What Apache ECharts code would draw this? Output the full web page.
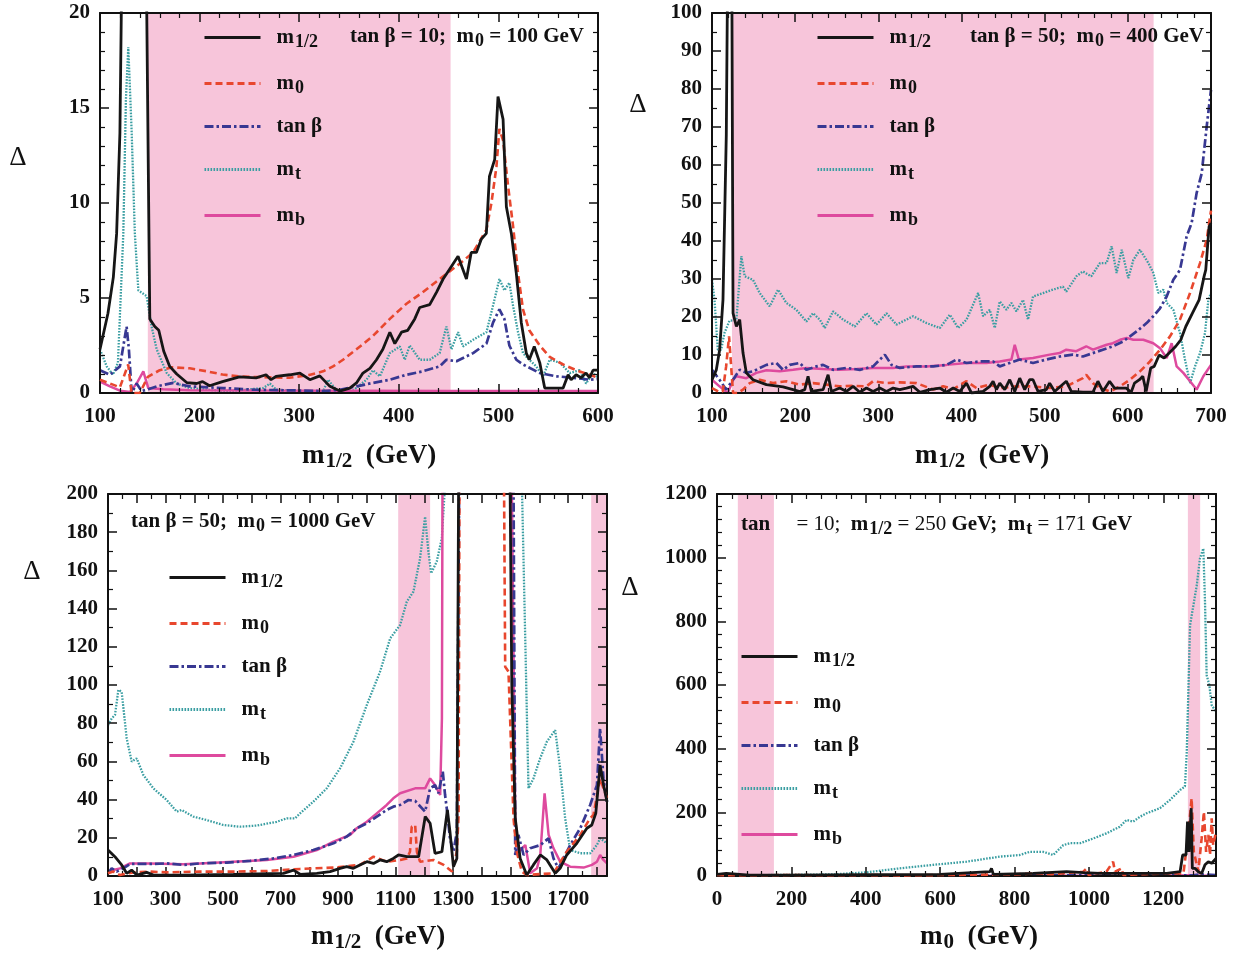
<!DOCTYPE html>
<html><head><meta charset="utf-8">
<script src="https://cdn.jsdelivr.net/npm/echarts@6/dist/echarts.min.js"></script>
<style>html,body{margin:0;padding:0;background:#fff}#c{width:1236px;height:957px}</style>
</head><body><div id="c"></div>
<script>
// ---------------- DATA ----------------
const SERIES_NAMES = ['m1/2', 'm0', 'tan β', 'mt', 'mb'];

// Panel 1: tan beta = 10, m0 = 100 GeV (x = m1/2)
const P1_BANDS = [[148, 452]];
const P1_M12 = [[100,2.3],[108,4.2],[113.4,6.1],[116.7,8.4],[120,13.7],[122.5,25],[146,25],[150,3.9],[155,3.5],[159,3.3],[164,2.2],[170,1.4],[177,1.0],[187,0.55],[197,0.5],[203,0.6],[210,0.38],[223,0.6],[240,0.85],[256.7,0.8],[266.7,0.96],[271.7,0.7],[276.7,0.87],[290.6,0.96],[300.7,1.05],[310.7,0.7],[320.7,0.9],[330.8,0.35],[340.8,0.1],[350.8,0.26],[357.5,0.53],[364,1.05],[371,1.3],[377.6,1.75],[384,2.3],[391,3.2],[396,2.6],[402.7,3.2],[409,3.3],[416,3.9],[421,4.5],[431,4.65],[437.8,5.3],[444.5,6.0],[449.5,6.4],[459.5,7.2],[467.9,6.0],[472.7,7.4],[477.9,7.4],[482.9,8.1],[487.9,8.4],[491,11.4],[496.3,12.3],[499.6,15.6],[504.7,14.4],[508,9.8],[513,8.4],[518,6.3],[523,3.7],[528,2.1],[531,1.75],[536,2.45],[541.5,1.6],[546.5,0.26],[565,0.26],[570,0.96],[573,0.7],[578,0.96],[583,0.8],[588,1.05],[591.6,0.8],[595,1.2],[600,1.2]];
const P1_M0 = [[100,0.7],[110,0.5],[120,0.3],[128.3,1.5],[131.7,0],[140,0],[148,0.85],[160,1.2],[173,1.35],[190,1.3],[206.7,1.15],[223,0.97],[240,0.87],[256.7,0.84],[290,0.8],[310,0.95],[324,1.14],[334,1.4],[344,1.75],[357.5,2.3],[374,3.0],[391,3.9],[407.7,4.7],[424,5.3],[441,6.0],[451,6.4],[461,6.8],[474.6,7.4],[488,8.6],[493,10.0],[498,11.9],[501,13.9],[504.7,13.3],[509.7,10.9],[514.7,8.8],[519.7,6.3],[524.7,4.4],[531,3.3],[541.5,2.5],[551.5,1.9],[565,1.5],[578,1.2],[591.6,0.96],[600,0.8]];
const P1_TANB = [[100,1.2],[110,0.96],[120,1.4],[126.7,3.5],[129,2.3],[131.8,0],[136.8,0.5],[141.8,0.1],[148.5,0.2],[157,0.35],[173.6,0.53],[190,0.35],[223.7,0.26],[257,0.17],[290.6,0.14],[324,0.1],[340.8,0.17],[357.5,0.35],[374,0.53],[391,0.7],[407.7,0.96],[424,1.14],[441,1.4],[447.8,1.75],[457.9,1.67],[474.6,2.1],[488,2.6],[494.6,3.7],[501,4.4],[506,3.9],[511,2.5],[518,1.75],[524.7,1.5],[541.5,1.05],[558,0.88],[575,0.8],[591.6,0.7],[600,0.74]];
const P1_MT = [[100,2.3],[106.7,1.4],[113,0.96],[118,1.6],[123.4,8.4],[126,15.4],[128.4,18.2],[131.8,13.7],[135,8.4],[138.5,5.4],[146.8,5.1],[151.8,3.5],[156.9,2.3],[167,1.05],[177,0.5],[190,0.26],[207,0.17],[230.4,0.1],[263.9,0.26],[270.6,0.5],[277,0.17],[307,0.1],[324,0.1],[329,0.7],[337,0.17],[351,0],[367.6,0.7],[374,1.2],[381,0.88],[391,2.1],[401,2.45],[406,1.75],[411,2.5],[421,1.75],[431,1.75],[441,2.1],[447.8,3.5],[452.8,2.3],[459.5,3.2],[464.5,2.45],[474.6,2.8],[488,3.2],[494.6,4.6],[501,6.0],[506,5.4],[511,5.8],[514.7,4.6],[519.7,3.2],[524.7,2.1],[531,1.75],[538,1.4],[544.8,0.88],[551.5,1.75],[561.6,1.6],[571.6,1.05],[581.6,1.2],[588,0.5],[595,1.05],[600,0.8]];
const P1_MB = [[100,0.6],[110,0.35],[120,0.12],[130,0.05],[136.8,0.5],[143.5,1.14],[148.5,0.26],[163.5,0.2],[190,0.15],[257,0.13],[350,0.12],[450,0.11],[600,0.1]];

// Panel 2: tan beta = 50, m0 = 400 GeV (x = m1/2)
const P2_BANDS = [[124, 631]];
const P2_M12 = [[100,3.5],[105.2,6.1],[109.2,11.4],[113.2,24.5],[117.2,68],[119.5,130],[123.5,130],[125.3,21],[129.3,17.5],[133.3,19.3],[137.3,10.5],[141.3,5.3],[149.3,3.5],[165.4,2.2],[185.4,1.6],[197.5,0.9],[205.5,0.4],[211.5,0.9],[215.5,4.4],[219.5,0.4],[233.6,0.9],[239.6,4.8],[243.6,0.4],[253.6,1.3],[261.7,0.4],[269.7,1.75],[277.7,0.2],[285.7,1.3],[293.7,0.4],[301.8,1.3],[309.8,0.4],[317.8,1.3],[325.8,0.9],[333.8,1.3],[341.8,1.75],[349.9,0.2],[361.9,0.9],[373.9,1.3],[381.9,0.2],[390,1.3],[398,0.4],[406,2.6],[412,0],[426,0.4],[434,1.75],[438,3.1],[442,0.9],[446,2.6],[452,0.9],[458,3.5],[464,0.4],[470,3.9],[476,0.9],[482,3.5],[486,3.5],[492,0.4],[502,0.9],[506,2.6],[512,0.4],[526,3.1],[532,0.4],[546,0.2],[558,0.2],[564,3.1],[570,0.4],[578,3.1],[584,1.3],[598,1.3],[604,0.2],[608,2.6],[614,3.5],[618,4.4],[622,0.4],[623.5,0.2],[627.5,6.6],[631.7,7.0],[637.7,10],[643.6,9.2],[649.7,10.5],[657.7,12.3],[663.7,14],[669.7,17.5],[677.7,21],[685.7,24.5],[691.7,30.7],[693.7,32.4],[697.7,43.8],[700,44.7]];
const P2_M0 = [[100,1.3],[109,0.2],[113,0.5],[117,7],[120.5,14.9],[123,7],[125.3,0],[131,0],[137.3,0.9],[145.3,2.6],[157.4,3.5],[173.4,2.6],[189.4,3.1],[205.5,2.2],[221.5,2.6],[237.6,2.2],[253.6,1.75],[269.7,1.9],[285.7,1.75],[293.7,3.1],[309.8,2.6],[325.8,2.8],[345.9,2.6],[366,0.9],[378,1.75],[390,1.05],[406,3.1],[418,1.3],[434,2.2],[446,1.3],[466,1.75],[486,1.75],[506,1.3],[526,1.75],[546,3.9],[550,4.8],[558,2.6],[566.5,1.3],[578.5,0.4],[590.6,1.75],[602.6,3.5],[614.6,5.7],[626.6,8.3],[638.7,11.4],[650.7,14.9],[662.7,19.3],[674.8,26.3],[686.8,34.2],[694.8,40.3],[700,48]];
const P2_TANB = [[100,6.1],[109,3.5],[117,0.9],[125.3,3.5],[133.3,6.1],[141.3,5.3],[149.3,5.7],[165.4,7.4],[177.4,7.9],[185.4,6.1],[193.5,7.4],[205.5,7.9],[213.5,6.1],[225.6,7.0],[233.6,7.4],[245.6,6.1],[261.7,6.6],[277.7,6.1],[293.7,7.0],[307.8,10.1],[315.8,7.4],[325.8,6.6],[345.9,7.0],[366,7.0],[381.9,7.4],[394,8.8],[406,7.9],[422,8.3],[438,8.3],[446,7.0],[458,7.9],[470,8.8],[486,7.9],[502,8.8],[518,9.6],[534,10.1],[546,9.6],[558,10.5],[570,11.4],[582,12.3],[594.6,13.6],[602.6,14.9],[610.6,16.2],[622.6,18.4],[630.6,20.2],[638.7,22.3],[646.7,25.4],[654.7,29.8],[662.7,32.4],[670.7,41.2],[676.7,44.7],[682.7,52.6],[688.8,57.8],[694.8,70.1],[700,79.8]];
const P2_MT = [[100,29.8],[103,24.5],[107,11.4],[111,11.4],[115,15.8],[121,19],[129.3,19.3],[135.3,36],[139.3,30.7],[149.3,29.8],[157.4,26.3],[169.4,22.8],[179.4,27.2],[189.4,23.7],[201.5,21.9],[213.5,18.8],[221.5,21],[229.6,19.3],[235.6,17.1],[245.6,21.5],[257.7,19.3],[271.7,17.5],[285.7,21],[297.7,18],[309.8,21],[321.8,18],[341.8,20.2],[357.9,18.4],[373.9,17.1],[386,20.6],[396,17.1],[406,19.3],[420,26.3],[426,20.2],[434,21.9],[440,17.1],[446,24.1],[454,21.9],[460,23.7],[466,21.5],[474,24.5],[480,19.3],[486,25.4],[498,26.3],[510,27.2],[522,28],[526,26.7],[538,30.7],[546,32],[556,30.7],[566.5,34.2],[574.5,34.2],[580.5,38.6],[586.5,31.6],[592.6,37.7],[600.6,30.2],[606.6,35],[614.6,37.7],[624.7,34.2],[630.6,31.6],[636.7,26.3],[642.7,27.2],[646.7,23.7],[654.7,21.9],[662.7,15.8],[668.7,8.8],[674.8,2.6],[680.8,7.0],[686.8,10.5],[692.8,15.8],[696.8,24.5],[700,26.3]];
const P2_MB = [[100,3.5],[109,1.75],[119,0],[125.3,3.5],[129.3,4.4],[141.3,3.9],[153.3,5.3],[165.4,6.0],[181.4,5.7],[197.5,6.1],[213.5,6.6],[233.6,6.3],[253.6,6.1],[273.7,6.3],[293.7,6.6],[317.8,6.6],[333.8,7.0],[357.9,7.0],[381.9,7.4],[406,7.9],[430,7.9],[446,8.3],[460,8.8],[464,12.7],[469,8.8],[486,9.2],[506,10.1],[518,10.5],[526,11.4],[538,11],[550,12.3],[558,11.4],[574.5,12.7],[582,13.1],[590.6,14],[598.6,14.5],[606.6,14],[618.6,14],[630.6,13.1],[638.7,11.8],[646.7,9.2],[652.7,13.1],[658.7,7.0],[666.7,5.3],[674.8,3.1],[682.7,0.9],[690.8,4.4],[700,7.4]];

// Panel 3: tan beta = 50, m0 = 1000 GeV (x = m1/2)
const P3_BANDS = [[1109, 1220], [1780, 1835]];
const P3_M12 = [[100,13.6],[124,10.1],[147.5,5.8],[165,1.4],[182,3.1],[200,0.5],[234.5,1.9],[258,0.5],[362,0.5],[536,0.9],[710,1.4],[745,3.1],[768,0.9],[826,1.4],[872,2.3],[907,4.0],[930,4.9],[953,4.0],[976,5.8],[1000,7.5],[1023,6.6],[1046,8.4],[1069,7.5],[1092,9.2],[1110,11],[1139,10.1],[1180,10.1],[1203,31.1],[1220,27.6],[1237,11.9],[1261,12.7],[1280,34.6],[1289,23.2],[1301,4.9],[1313,9.2],[1319,205],[1330,1000],[1490,1000],[1498,205],[1504,100],[1516,30.2],[1533,9.2],[1556,0.5],[1579,5.8],[1603,11],[1626,8.4],[1655,1.4],[1672,4.0],[1695,11],[1730,17.1],[1765,25],[1782,26.7],[1796,32.8],[1811,58.1],[1823,47.6],[1835,38.9]];
const P3_M0 = [[100,1.4],[118.5,2.3],[141.7,0.5],[188,1.9],[246,2.3],[304,1.9],[420,2.3],[536,2.3],[652,2.6],[768,3.7],[884,4.4],[976,5.8],[1023,10.1],[1069,7.5],[1116,8.4],[1139,9.2],[1150,12.7],[1156,25.8],[1168,26.7],[1174,12.7],[1185,7.5],[1232,8.4],[1267,5.8],[1296,2.3],[1313,12.7],[1319,31.9],[1322,205],[1330,1000],[1470,1000],[1477,205],[1481,109.6],[1492.5,107],[1510,30.2],[1521,12.7],[1539,2.3],[1556,0.5],[1600,1],[1649,1.4],[1695,12.7],[1742,21.5],[1776,30.2],[1788,32],[1811,51],[1835,40.7]];
const P3_TANB = [[100,1.4],[112.8,4.0],[130,2.3],[153,4],[176.5,6.3],[246,6.3],[304,6.6],[362,5.8],[420,6.6],[513,7.0],[594,7.9],[675,9.2],[745,11],[814,13.6],[884,17.1],[930,20.6],[965,25],[1000,27.6],[1034.5,31.1],[1069,34.6],[1092,36.3],[1115.7,37.2],[1144.6,39.8],[1168,39.3],[1202.6,33.7],[1220,45.9],[1237,47.6],[1249,43.3],[1264,54.6],[1272,42.4],[1280,32.8],[1289,19.7],[1301,12.7],[1313,23.2],[1321,205],[1330,1000],[1500,1000],[1510,205],[1516,11],[1527,21.5],[1545,11],[1568,14.5],[1603,16.2],[1631.6,19.7],[1649,9.2],[1666,4.0],[1684,9.2],[1707,16.2],[1742,25],[1776.5,37.2],[1800,47.6],[1811,77.3],[1822.6,51.1],[1835,38.9]];
const P3_MT = [[100,79],[112.8,82.5],[124.3,84.3],[136,97.4],[147.5,96.5],[165,72],[182.3,59.9],[199.7,61.6],[222.9,52.9],[257.7,45.9],[304,39.8],[339,33.7],[356,34.6],[396.8,31.1],[443,29.3],[501,26.7],[559,25.8],[617,26.4],[686.7,28.4],[721.4,30.2],[750.4,30.2],[767.8,32.8],[814,38.9],[860.6,45.9],[907,56.4],[953.3,70.3],[999.7,89.5],[1046,107],[1081,124.4],[1115.7,131.4],[1138.8,143.6],[1162,148.9],[1185,166.3],[1202.6,188.1],[1214,169.8],[1223.5,158.5],[1243,164.6],[1260.6,176.8],[1272,205],[1280,1000],[1530,1000],[1539,205],[1562,45.9],[1579.4,51.1],[1602.6,61.6],[1625.8,70.3],[1654.8,76.4],[1672,56.4],[1689.5,30.2],[1706.9,13.6],[1741.7,11.9],[1776.5,11.9],[1799.7,16.2],[1811.3,19.7],[1835,17.1]];
const P3_MB = [[100,2.3],[118.5,3.1],[141.7,4.0],[176.5,6.6],[246,6.6],[362,6.1],[420,6.6],[536,7.5],[652,8.4],[745,10.1],[826,13.6],[884,18],[942,21.5],[965,25],[1000,28.4],[1034.5,32.8],[1069,37.2],[1092,40.7],[1115.7,43.3],[1168,45.9],[1202.6,45.9],[1220,51.1],[1237,47.6],[1255,42.4],[1261,82.5],[1263,205],[1270,1000],[1495,1000],[1504,205],[1516,30],[1527,12.7],[1551,16.2],[1568,1.4],[1591.6,4.0],[1603,11],[1618,43.3],[1632,21.5],[1649,14.5],[1672,7.5],[1707,4.9],[1753.6,4.4],[1782.6,5.8],[1800,7.5],[1811,11],[1822.6,8.4],[1835,6.6]];

// Panel 4: tan beta = 10, m1/2 = 250 GeV, mt = 171 GeV (x = m0)
const P4_BANDS = [[56, 153], [1266, 1299]];
const P4_M12 = [[0,5],[25,8],[88,3],[200,3],[400,4],[600,5],[734,13.6],[738,24],[743,5],[850,8],[940,13.6],[985,10.5],[1030,8],[1119,8],[1209,8],[1245,13.6],[1252,66],[1261,66],[1265,171],[1269,76],[1275,213],[1278,24],[1285,24],[1294,13.6],[1303,8],[1312,35],[1321,45],[1330,40],[1341.6,55]];
const P4_M0 = [[0,3],[100,2],[200,3],[300,2],[400,3],[500,2],[600,3],[700,4],[800,5],[850,8],[900,6],[950,10],[985,13.6],[994,24],[999,3],[1047,13.6],[1065,45],[1070,13.6],[1088,24],[1092,3],[1150,6],[1200,8],[1254,8],[1267,129],[1276,244],[1282,76],[1294,14],[1303,118],[1309,202],[1315,76],[1321,129],[1325.5,66],[1330,181],[1334,97],[1341.6,139]];
const P4_TANB = [[0,1],[200,1],[400,1.5],[600,1],[800,2],[1000,2],[1200,3],[1280,2],[1300,5],[1341.6,3]];
const P4_MT = [[0,3],[133,3],[312,5],[402,11.5],[491,24],[581,35],[671,45],[761,61],[814,66],[841,76],[877,76],[904,66],[931,97],[949,103],[976,103],[1012,118],[1047,134],[1083,155],[1101,176],[1119,171],[1137,186],[1155,197],[1191,213],[1218,239],[1245,270],[1258,281],[1263,391],[1272,789],[1290,914],[1298.5,998],[1307.5,1029],[1312,862],[1316.5,631],[1323.6,600],[1330,537],[1341.6,516]];
const P4_MB = [[0,0.5],[400,0.5],[800,0.5],[1200,1],[1270,2],[1275,6],[1280,1],[1341.6,1]];

// axis ranges / ticks (values)
const X_RANGES = [[100,600,100],[100,700,100],[100,1835,100],[0,1341.6,200]];
const Y_RANGES = [[0,20,5],[0,100,10],[0,200,20],[0,1200,200]];

// ---------------- STYLE ----------------
const FONT = '"Liberation Serif","Times New Roman",serif';
const INK = '#111';
const PINK = '#f7c5da';
const STYLES = {
  'm1/2': {color:'#161616', width:2.8, type:'solid'},
  'm0':   {color:'#e8472e', width:2.6, type:[7,4]},
  'tan β':{color:'#383892', width:2.7, type:[9,3,2.5,3]},
  'mt':   {color:'#3a9ea2', width:2.3, type:[1.6,1.4]},
  'mb':   {color:'#de4a9e', width:2.5, type:'solid'}
};
const LEGEND_TXT = {
  'm1/2':'{f|m}{s|1/2}', 'm0':'{f|m}{s|0}', 'tan β':'{f|tan β}', 'mt':'{f|m}{s|t}', 'mb':'{f|m}{s|b}'
};
const LRICH = {
  f:{fontFamily:FONT, fontWeight:'bold', fontSize:21, lineHeight:25, color:INK, padding:[0,0,0,11]},
  s:{fontFamily:FONT, fontWeight:'bold', fontSize:18, lineHeight:16, color:INK, padding:[9,0,0,1]}
};
const NRICH = {
  a:{fontFamily:FONT, fontWeight:'bold', fontSize:27, lineHeight:31, fill:INK},
  s:{fontFamily:FONT, fontWeight:'bold', fontSize:21, lineHeight:20, fill:INK, padding:[11,0,0,1]}
};

const GRIDS = [
  {left:100, top:13, width:498, height:380},
  {left:712, top:13, width:499, height:380},
  {left:108, top:494, width:499, height:382},
  {left:717, top:494, width:499, height:382}
];
const MINOR_X = [5,5,2,5];
const MINOR_Y = [5,2,2,5];
const X_NAMES = ['{a|m}{s|1/2}{a|  (GeV)}','{a|m}{s|1/2}{a|  (GeV)}','{a|m}{s|1/2}{a|  (GeV)}','{a|m}{s|0}{a|  (GeV)}'];
const X_NAME_POS = [[302,440],[915,440],[311,921],[920,921]];
const X_FMT = [
  v => String(v), v => String(v),
  v => ((v-100)%200===0 && v<=1700) ? String(v) : '',
  v => (v%200===0 && v<=1200) ? String(v) : ''
];

const axisLineStyle = {color:INK, width:2};
function xAxes(gi){
  const [min,max,interval] = X_RANGES[gi];
  const base = {type:'value', gridIndex:gi, min, max, interval, z:5,
    axisLine:{show:true, onZero:false, lineStyle:axisLineStyle},
    axisTick:{show:true, inside:true, length:9, lineStyle:{color:INK, width:1.5}},
    minorTick:{show:true, splitNumber:MINOR_X[gi], length:5, lineStyle:{color:INK, width:1.2}},
    splitLine:{show:false}, minorSplitLine:{show:false}};
  return [
    Object.assign({}, base, {position:'bottom',
      axisLabel:{show:true, margin:13, fontFamily:FONT, fontWeight:'bold', fontSize:21, color:INK, formatter:X_FMT[gi], showMaxLabel: gi<2, hideOverlap:false}}),
    Object.assign({}, base, {position:'top', axisLabel:{show:false}})
  ];
}
function yAxes(gi){
  const [min,max,interval] = Y_RANGES[gi];
  const base = {type:'value', gridIndex:gi, min, max, interval, z:5,
    axisLine:{show:true, onZero:false, lineStyle:axisLineStyle},
    axisTick:{show:true, inside:true, length:9, lineStyle:{color:INK, width:1.5}},
    minorTick:{show:true, splitNumber:MINOR_Y[gi], length:5, lineStyle:{color:INK, width:1.2}},
    splitLine:{show:false}, minorSplitLine:{show:false}};
  return [
    Object.assign({}, base, {position:'left',
      axisLabel:{show:true, margin:10, fontFamily:FONT, fontWeight:'bold', fontSize:21, color:INK, formatter:v => String(v)}}),
    Object.assign({}, base, {position:'right', axisLabel:{show:false}})
  ];
}

const PANELS = [
  {bands:P1_BANDS, data:{'m1/2':P1_M12,'m0':P1_M0,'tan β':P1_TANB,'mt':P1_MT,'mb':P1_MB}},
  {bands:P2_BANDS, data:{'m1/2':P2_M12,'m0':P2_M0,'tan β':P2_TANB,'mt':P2_MT,'mb':P2_MB}},
  {bands:P3_BANDS, data:{'m1/2':P3_M12,'m0':P3_M0,'tan β':P3_TANB,'mt':P3_MT,'mb':P3_MB}},
  {bands:P4_BANDS, data:{'m1/2':P4_M12,'m0':P4_M0,'tan β':P4_TANB,'mt':P4_MT,'mb':P4_MB}}
];
const DRAW_ORDER = ['mt','mb','tan β','m0','m1/2'];

const xAxis = [], yAxis = [], series = [];
PANELS.forEach((p, gi) => {
  xAxis.push(...xAxes(gi)); yAxis.push(...yAxes(gi));
  series.push({type:'line', xAxisIndex:gi*2, yAxisIndex:gi*2, data:[], silent:true, z:1,
    markArea:{silent:true, itemStyle:{color:PINK}, data:p.bands.map(b => [{xAxis:b[0]},{xAxis:b[1]}])}});
  DRAW_ORDER.forEach((name, k) => {
    const st = STYLES[name];
    series.push({type:'line', name, xAxisIndex:gi*2, yAxisIndex:gi*2, data:p.data[name],
      symbol:'none', showSymbol:false, clip:true, z:2+k, silent:true,
      lineStyle:{color:st.color, width:st.width, type:st.type},
      itemStyle:{color:st.color}});
  });
});

const LEGEND_POS = [[203,24],[816,24],[168,564],[740,643]];
const legend = LEGEND_POS.map(([l,t]) => ({orient:'vertical', left:l, top:t, padding:0, itemGap:19,
  itemWidth:56, itemHeight:14, selectedMode:false, data:SERIES_NAMES,
  itemStyle:{opacity:0, color:'rgba(0,0,0,0)', borderWidth:0},
  lineStyle:{width:3},
  formatter:n => LEGEND_TXT[n], textStyle:{rich:LRICH}}));

const ARICH = {
  b:{fontFamily:FONT, fontWeight:'bold', fontSize:21, lineHeight:24, fill:INK},
  r:{fontFamily:FONT, fontWeight:'normal', fontSize:21, lineHeight:24, fill:INK},
  bs:{fontFamily:FONT, fontWeight:'bold', fontSize:18, lineHeight:16, fill:INK, padding:[9,0,0,1]}
};
const ANNOTS = [
  {left:350, top:23, text:'{b|tan β = 10;  m}{bs|0}{b| = 100 GeV}'},
  {left:970, top:23, text:'{b|tan β = 50;  m}{bs|0}{b| = 400 GeV}'},
  {left:131, top:508, text:'{b|tan β = 50;  m}{bs|0}{b| = 1000 GeV}'},
  {left:741, top:511, text:'{b|tan}{r|     = 10;  }{b|m}{bs|1/2}{r| = 250 }{b|GeV;  m}{bs|t}{r| = 171 }{b|GeV}'}
];
const DELTAS = [[18,158],[638,105],[32,572],[630,588]];
const graphic = [];
ANNOTS.forEach(a => graphic.push({type:'text', left:a.left, top:a.top, z:10,
  style:{text:a.text, rich:ARICH, fill:INK, font:'bold 21px ' + FONT}}));
X_NAMES.forEach((t, i) => graphic.push({type:'text', left:X_NAME_POS[i][0], top:X_NAME_POS[i][1], z:10,
  style:{text:t, rich:NRICH, fill:INK, font:'bold 27px ' + FONT}}));
DELTAS.forEach(([x,y]) => graphic.push({type:'text', x:x, y:y, z:10,
  style:{text:'Δ', fill:INK, font:'27px ' + FONT, align:'center', verticalAlign:'middle', textAlign:'center', textVerticalAlign:'middle'}}));

const chart = echarts.init(document.getElementById('c'), null, {renderer:'canvas'});
chart.setOption({animation:false, backgroundColor:'#fff', grid:GRIDS, xAxis, yAxis, series, legend, graphic});
</script></body></html>
